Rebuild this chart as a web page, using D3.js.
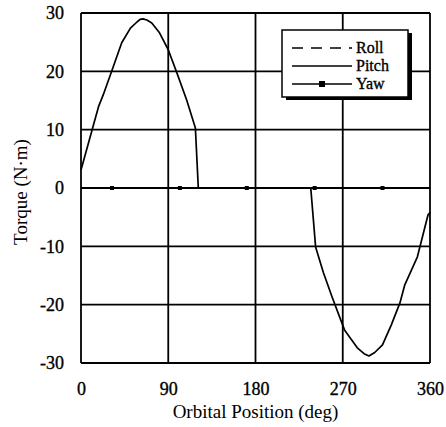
<!DOCTYPE html>
<html>
<head>
<meta charset="utf-8">
<script src="https://cdn.jsdelivr.net/npm/d3@7"></script>
<style>
  body { margin: 0; background: #fff; }
  text { font-family: "Liberation Serif", "Times New Roman", serif; fill: #000; }
</style>
</head>
<body>
<svg id="chart" width="446" height="427"></svg>
<script>
// pitch torque
var pitchDeg = [0, 12, 18, 23, 32, 42, 51, 58, 61, 64, 68, 73, 81, 90, 99, 109, 118, 121,
                237, 242, 250, 259, 272, 285, 292, 297, 303, 311, 320, 329, 334, 347, 358, 360];
var pitchVal = [3.1, 10.3, 13.9, 16, 20.2, 24.9, 27.4, 28.5, 28.9, 29, 28.8, 28.3, 26.6, 23.7, 19.7, 15.1, 10.3, 0,
                0, -10.1, -14.5, -18.7, -24.4, -27.4, -28.4, -28.8, -28.2, -26.9, -23.5, -19.7, -16.6, -11.8, -4.6, -4.2];
// roll and yaw stay at zero
var rollDeg = [0, 360];
var rollVal = [0, 0];
var yawDeg = [0, 32, 102, 171, 241, 311, 360];
var yawVal = [0, 0, 0, 0, 0, 0, 0];

var xTicks = [0, 90, 180, 270, 360];
var yTicks = [-30, -20, -10, 0, 10, 20, 30];
var seriesNames = ['Roll', 'Pitch', 'Yaw'];

var margin = {left: 81, top: 13, right: 16, bottom: 64};
var W = 446, H = 427;
var w = W - margin.left - margin.right;
var h = H - margin.top - margin.bottom;

var svg = d3.select('#chart');
var g = svg.append('g').attr('transform', 'translate(' + margin.left + ',' + margin.top + ')');

var x = d3.scaleLinear().domain([0, 360]).range([0, w]);
var y = d3.scaleLinear().domain([-30, 30]).range([h, 0]);

// grid
g.selectAll('.hgrid').data(yTicks).enter().append('line')
    .attr('x1', 0).attr('x2', w)
    .attr('y1', function(d) { return y(d); }).attr('y2', function(d) { return y(d); })
    .style('stroke', '#000').style('stroke-width', 1.8);
g.selectAll('.vgrid').data(xTicks).enter().append('line')
    .attr('y1', 0).attr('y2', h)
    .attr('x1', function(d) { return x(d); }).attr('x2', function(d) { return x(d); })
    .style('stroke', '#000').style('stroke-width', 1.8);

// tick labels (plain hyphen for negatives, like the original)
var fmt = function(d) { return String(d); };

function styleTicks(sel) {
    sel.selectAll('text')
        .style('font-size', '18px')
        .style('font-family', '"Liberation Serif", serif')
        .style('stroke', '#000').style('stroke-width', 0.35);
}

var xAxis = d3.axisBottom(x).tickValues(xTicks).tickSize(0).tickPadding(19).tickFormat(fmt);
g.append('g').attr('transform', 'translate(0,' + h + ')').call(xAxis)
    .call(function(a) { a.select('.domain').remove(); })
    .call(styleTicks);

var yAxis = d3.axisLeft(y).tickValues(yTicks).tickSize(0).tickPadding(17).tickFormat(fmt);
g.append('g').call(yAxis)
    .call(function(a) { a.select('.domain').remove(); })
    .call(styleTicks);

var line = d3.line()
    .x(function(d) { return x(d[0]); })
    .y(function(d) { return y(d[1]); });

// roll (dashed)
g.append('path')
    .datum(d3.zip(rollDeg, rollVal))
    .attr('d', line)
    .style('fill', 'none').style('stroke', '#000').style('stroke-width', 2)
    .style('stroke-dasharray', '8,5');

// yaw with square markers
g.append('path')
    .datum(d3.zip(yawDeg, yawVal))
    .attr('d', line)
    .style('fill', 'none').style('stroke', '#000').style('stroke-width', 1.5);
g.selectAll('.yawpt').data(d3.zip(yawDeg, yawVal).slice(1, -1)).enter().append('rect')
    .attr('x', function(d) { return x(d[0]) - 2; })
    .attr('y', function(d) { return y(d[1]) - 2; })
    .attr('width', 4).attr('height', 4)
    .style('fill', '#000');

// pitch
g.append('path')
    .datum(d3.zip(pitchDeg, pitchVal))
    .attr('d', line)
    .style('fill', 'none').style('stroke', '#000').style('stroke-width', 1.7)
    .style('stroke-linejoin', 'round');

// legend
var lg = svg.append('g').attr('transform', 'translate(282,30)');
lg.append('rect').attr('x', 4).attr('y', 3).attr('width', 126).attr('height', 67).style('fill', '#000');
lg.append('rect').attr('x', 0).attr('y', 0).attr('width', 126).attr('height', 67)
    .style('fill', '#fff').style('stroke', '#000').style('stroke-width', 1.5);
seriesNames.forEach(function(name, i) {
    var yy = 18 + i * 18;
    var l = lg.append('line').attr('x1', 10).attr('x2', 70).attr('y1', yy).attr('y2', yy)
        .style('stroke', '#000').style('stroke-width', 1.3);
    if (name === 'Roll') l.style('stroke-dasharray', '11,8');
    if (name === 'Yaw') lg.append('rect').attr('x', 37).attr('y', yy - 3).attr('width', 6).attr('height', 6).style('fill', '#000');
    lg.append('text').attr('x', 74).attr('y', yy + 5).text(name)
        .style('font-size', '16px').style('stroke', '#000').style('stroke-width', 0.35);
});

// titles
svg.append('text')
    .attr('x', margin.left + w / 2).attr('y', 418)
    .attr('text-anchor', 'middle')
    .style('font-size', '19px')
    .text('Orbital Position (deg)');
svg.append('text')
    .attr('transform', 'translate(27,192) rotate(-90)')
    .attr('text-anchor', 'middle')
    .style('font-size', '19px')
    .text('Torque (N·m)');
</script>
</body>
</html>
